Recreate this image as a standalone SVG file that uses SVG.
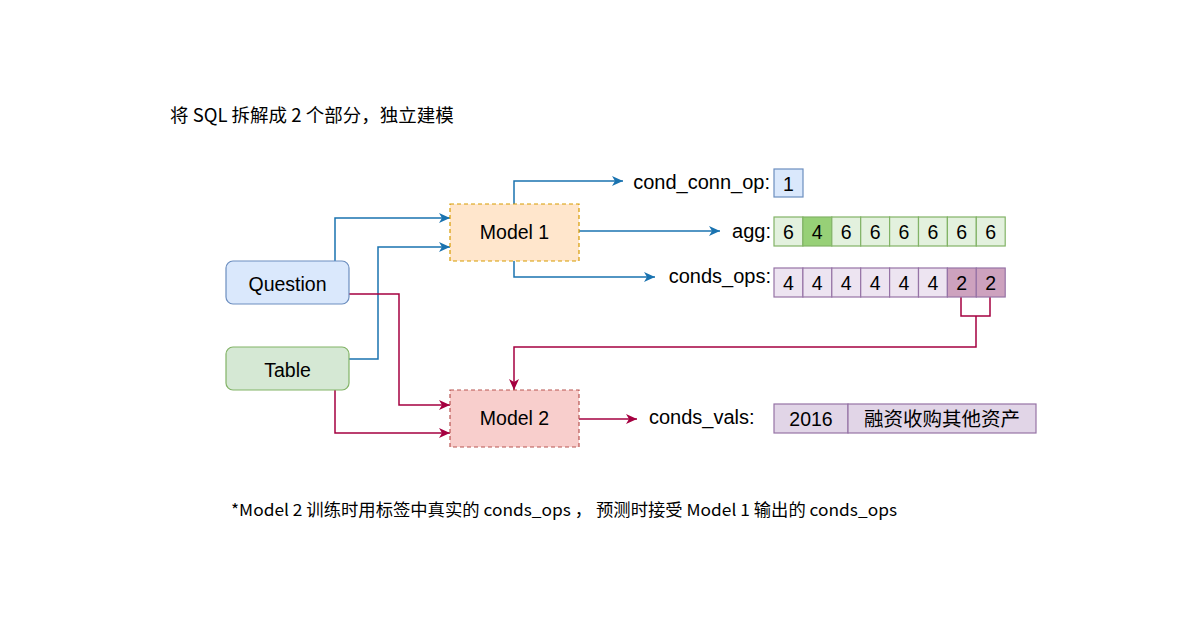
<svg xmlns="http://www.w3.org/2000/svg" width="1200" height="630" viewBox="0 0 1200 630">
<defs>
<marker id="ab" markerUnits="userSpaceOnUse" markerWidth="12" markerHeight="10" refX="11" refY="5" orient="auto"><path d="M0,0 L11,5 L0,10 L3,5 Z" fill="#1a73b0"/></marker>
<marker id="ar" markerUnits="userSpaceOnUse" markerWidth="12" markerHeight="10" refX="11" refY="5" orient="auto"><path d="M0,0 L11,5 L0,10 L3,5 Z" fill="#A50040"/></marker>
<style>
text{font-family:"Liberation Sans","Noto Sans CJK SC",sans-serif;fill:#000}
.t{font-size:19.5px;text-anchor:middle}
.lbl{font-size:20px;text-anchor:end}
.c{font-size:19.5px;text-anchor:middle}
.blue{fill:none;stroke:#1a73b0;stroke-width:1.5;marker-end:url(#ab)}
.red{fill:none;stroke:#A50040;stroke-width:1.5;marker-end:url(#ar)}
.g{fill:#e3f1de;stroke:#82b366;stroke-width:1.2}
.gh{fill:#97d077;stroke:#82b366;stroke-width:1.2}
.p{fill:#ede4f1;stroke:#9673a6;stroke-width:1.2}
.ph{fill:#cda2be;stroke:#9673a6;stroke-width:1.2}
.cjk{font-family:"Noto Sans CJK SC","Liberation Sans",sans-serif}
</style>
</defs>
<rect width="1200" height="630" fill="#ffffff"/>
<text x="170" y="122" class="cjk" style="font-size:18.5px">将 SQL 拆解成 2 个部分，独立建模</text>

<g id="connectors">
<path class="blue" d="M335,261 V218 H450"/>
<path class="blue" d="M349,359 H378 V247 H450"/>
<path class="blue" d="M514,204 V181 H623"/>
<path class="blue" d="M579,231 H720"/>
<path class="blue" d="M514,261 V277 H655"/>
<path class="red" d="M349,294 H399 V405 H450"/>
<path class="red" d="M335,390 V433 H450"/>
<path d="M961,297 V316 H990 V297" fill="none" stroke="#A50040" stroke-width="1.5"/>
<path class="red" d="M976,316 V347 H514 V390"/>
<path class="red" d="M579,419 H637"/>
</g>

<g id="question">
<rect x="226" y="261" width="123" height="43" rx="7" fill="#dae8fc" stroke="#6c8ebf" stroke-width="1.2"/>
<text x="287.5" y="290.5" class="t">Question</text>
</g>
<g id="table">
<rect x="226" y="347" width="123" height="43" rx="7" fill="#d5e8d4" stroke="#82b366" stroke-width="1.2"/>
<text x="287.5" y="376.5" class="t">Table</text>
</g>
<g id="model1">
<rect x="450" y="204" width="129" height="57" fill="#ffe6cc" stroke="#d79b00" stroke-width="1.2" stroke-dasharray="4 3"/>
<text x="514.5" y="239" class="t">Model 1</text>
</g>
<g id="model2">
<rect x="450" y="390" width="129" height="57" fill="#f8cecc" stroke="#b85450" stroke-width="1.2" stroke-dasharray="4 3"/>
<text x="514.5" y="425" class="t">Model 2</text>
</g>

<g id="cond_conn_op">
<text x="770" y="189" class="lbl">cond_conn_op:</text>
<rect x="774" y="169" width="29" height="28" fill="#dae8fc" stroke="#6c8ebf" stroke-width="1.2"/>
<text x="788.5" y="191" class="c">1</text>
</g>

<g id="agg">
<text x="771" y="238" class="lbl">agg:</text>
<rect class="g" x="774" y="217" width="28.9" height="29"/>
<rect class="gh" x="802.9" y="217" width="28.9" height="29"/>
<rect class="g" x="831.8" y="217" width="28.9" height="29"/>
<rect class="g" x="860.7" y="217" width="28.9" height="29"/>
<rect class="g" x="889.6" y="217" width="28.9" height="29"/>
<rect class="g" x="918.5" y="217" width="28.9" height="29"/>
<rect class="g" x="947.4" y="217" width="28.9" height="29"/>
<rect class="g" x="976.3" y="217" width="28.9" height="29"/>
<text x="788.4" y="238.5" class="c">6</text>
<text x="817.3" y="238.5" class="c">4</text>
<text x="846.2" y="238.5" class="c">6</text>
<text x="875.1" y="238.5" class="c">6</text>
<text x="904" y="238.5" class="c">6</text>
<text x="932.9" y="238.5" class="c">6</text>
<text x="961.8" y="238.5" class="c">6</text>
<text x="990.7" y="238.5" class="c">6</text>
</g>

<g id="conds_ops">
<text x="771" y="283" class="lbl">conds_ops:</text>
<rect class="p" x="774" y="268" width="28.9" height="29"/>
<rect class="p" x="802.9" y="268" width="28.9" height="29"/>
<rect class="p" x="831.8" y="268" width="28.9" height="29"/>
<rect class="p" x="860.7" y="268" width="28.9" height="29"/>
<rect class="p" x="889.6" y="268" width="28.9" height="29"/>
<rect class="p" x="918.5" y="268" width="28.9" height="29"/>
<rect class="ph" x="947.4" y="268" width="28.9" height="29"/>
<rect class="ph" x="976.3" y="268" width="28.9" height="29"/>
<text x="788.4" y="290" class="c">4</text>
<text x="817.3" y="290" class="c">4</text>
<text x="846.2" y="290" class="c">4</text>
<text x="875.1" y="290" class="c">4</text>
<text x="904" y="290" class="c">4</text>
<text x="932.9" y="290" class="c">4</text>
<text x="961.8" y="290" class="c">2</text>
<text x="990.7" y="290" class="c">2</text>
</g>

<g id="conds_vals">
<text x="649" y="424" style="font-size:20px">conds_vals:</text>
<rect x="774" y="404" width="74" height="29" fill="#e1d5e7" stroke="#9673a6" stroke-width="1.2"/>
<rect x="848" y="404" width="188" height="29" fill="#e1d5e7" stroke="#9673a6" stroke-width="1.2"/>
<text x="811" y="426" class="c">2016</text>
<text x="942" y="426" class="c cjk">融资收购其他资产</text>
</g>

<text x="231" y="516" class="cjk" style="font-size:16.5px" textLength="666" lengthAdjust="spacingAndGlyphs">*Model 2 训练时用标签中真实的 conds_ops ， 预测时接受 Model 1 输出的 conds_ops</text>
</svg>
